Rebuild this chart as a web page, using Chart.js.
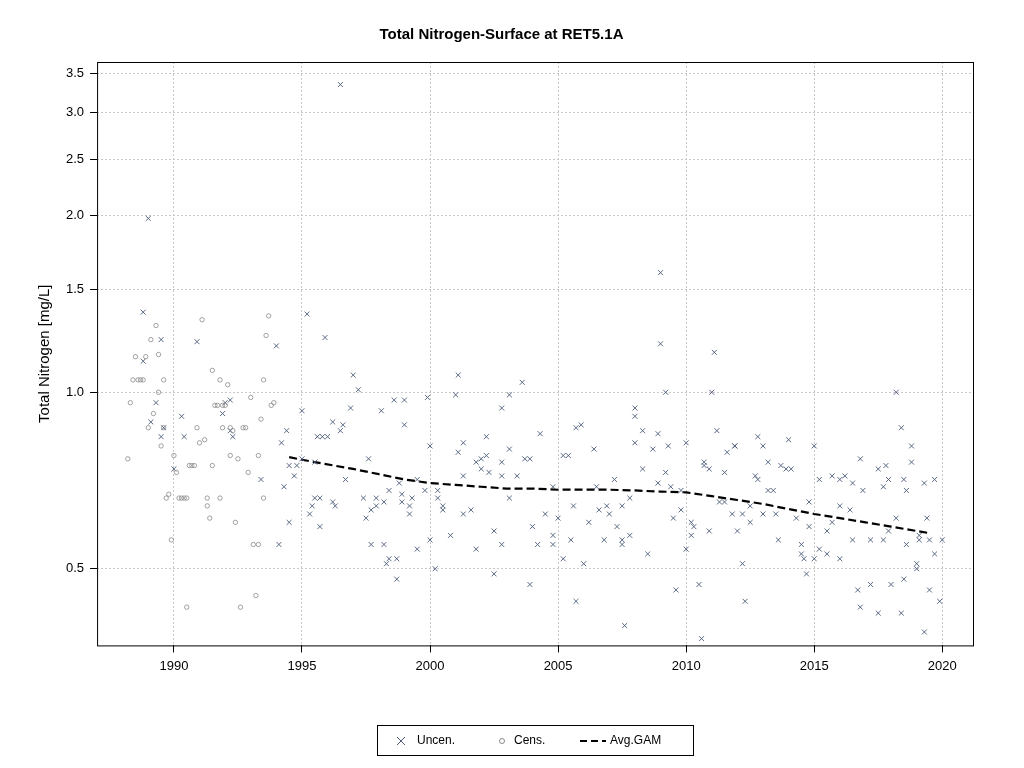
<!DOCTYPE html>
<html>
<head>
<meta charset="utf-8">
<script src="https://cdn.jsdelivr.net/npm/chart.js@4"></script>
<style>
  body { margin: 0; background: #fff; }
  #wrap { width: 1024px; height: 768px; }
</style>
</head>
<body>
<div id="wrap"><canvas id="myChart" width="1024" height="768"></canvas></div>
<script>
// Censored samples (year, mg/L)
const censYears = [1988.2,1988.3,1988.4,1988.5,1988.6,1988.7,1988.8,1988.9,1989.0,1989.1,1989.2,1989.3,1989.4,1989.4,1989.5,1989.6,1989.6,1989.7,1989.8,1989.9,1990.0,1990.1,1990.2,1990.3,1990.4,1990.5,1990.5,1990.6,1990.7,1990.8,1990.9,1991.0,1991.1,1991.2,1991.3,1991.3,1991.4,1991.5,1991.5,1991.6,1991.7,1991.8,1991.8,1991.9,1992.0,1992.1,1992.2,1992.3,1992.4,1992.5,1992.6,1992.7,1992.8,1992.9,1993.0,1993.1,1993.2,1993.3,1993.4,1993.5,1993.5,1993.6,1993.7,1993.8,1993.9,1993.3,1992.2,1991.9];
const censVals = [0.77,0.96,1.05,1.15,1.05,1.05,1.05,1.15,0.87,1.23,0.92,1.3,1.0,1.16,0.81,1.05,0.87,0.66,0.67,0.56,0.78,0.73,0.66,0.66,0.66,0.66,0.43,0.75,0.75,0.75,0.87,0.82,1.33,0.83,0.66,0.64,0.61,0.75,1.09,0.95,0.95,1.05,0.66,0.87,0.95,1.03,0.78,0.86,0.6,0.77,0.43,0.87,0.87,0.73,0.98,0.55,0.45,0.55,0.9,1.05,0.66,1.25,1.35,0.95,0.96,0.78,0.87,0.95];

// Uncensored samples
const uncYears = [1988.8,1988.8,1989.0,1989.1,1989.3,1989.5,1989.5,1989.6,1990.0,1990.3,1990.4,1990.9,1991.9,1992.0,1992.2,1992.2,1992.3,1993.4,1994.0,1994.1,1994.2,1994.3,1994.4,1994.5,1994.5,1994.7,1994.8,1995.0,1995.0,1995.2,1995.3,1995.4,1995.5,1995.5,1995.6,1995.7,1995.7,1995.8,1995.9,1996.0,1996.2,1996.2,1996.3,1996.5,1996.5,1996.6,1996.7,1996.9,1997.0,1997.2,1997.4,1997.5,1997.6,1997.7,1997.7,1997.9,1997.9,1998.1,1998.2,1998.2,1998.3,1998.4,1998.4,1998.6,1998.7,1998.7,1998.8,1998.9,1998.9,1999.0,1999.0,1999.2,1999.2,1999.3,1999.5,1999.5,1999.8,1999.9,2000.0,2000.0,2000.2,2000.3,2000.3,2000.5,2000.5,2000.8,2001.0,2001.1,2001.1,2001.3,2001.3,2001.3,2001.6,2001.8,2001.8,2002.0,2002.0,2002.2,2002.2,2002.3,2002.5,2002.5,2002.8,2002.8,2002.8,2002.8,2003.1,2003.1,2003.1,2003.4,2003.6,2003.7,2003.9,2003.9,2004.0,2004.2,2004.3,2004.5,2004.8,2004.8,2004.8,2005.0,2005.2,2005.2,2005.4,2005.5,2005.6,2005.7,2005.7,2005.9,2006.0,2006.2,2006.4,2006.5,2006.6,2006.8,2006.9,2007.0,2007.2,2007.3,2007.5,2007.5,2007.5,2007.6,2007.8,2007.8,2008.0,2008.0,2008.0,2008.3,2008.3,2008.5,2008.7,2008.9,2008.9,2009.0,2009.0,2009.2,2009.2,2009.3,2009.4,2009.5,2009.6,2009.8,2009.8,2010.0,2010.0,2010.2,2010.2,2010.3,2010.5,2010.6,2010.7,2010.7,2010.9,2010.9,2011.0,2011.1,2011.2,2011.3,2011.5,2011.5,2011.6,2011.8,2011.9,2011.9,2012.0,2012.2,2012.2,2012.3,2012.5,2012.5,2012.7,2012.8,2012.8,2013.0,2013.0,2013.2,2013.2,2013.4,2013.5,2013.6,2013.7,2013.9,2014.0,2014.1,2014.3,2014.5,2014.5,2014.6,2014.7,2014.8,2014.8,2015.0,2015.0,2015.2,2015.2,2015.5,2015.5,2015.7,2015.7,2016.0,2016.0,2016.0,2016.2,2016.4,2016.5,2016.5,2016.7,2016.8,2016.8,2016.9,2017.2,2017.2,2017.5,2017.5,2017.7,2017.7,2017.8,2017.9,2017.9,2018.0,2018.2,2018.2,2018.4,2018.4,2018.5,2018.5,2018.6,2018.6,2018.8,2018.8,2019.0,2019.0,2019.1,2019.1,2019.3,2019.3,2019.4,2019.5,2019.5,2019.7,2019.7,2019.9,2020.0];
const uncVals = [1.13,1.37,1.98,0.89,0.96,1.23,0.84,0.87,0.74,0.91,0.84,1.22,0.92,0.96,0.86,0.97,0.84,0.71,1.2,0.55,0.82,0.69,0.86,0.60,0.75,0.72,0.75,0.93,0.77,1.36,0.62,0.64,0.66,0.76,0.84,0.59,0.66,0.84,1.24,0.84,0.65,0.89,0.64,0.86,3.35,0.88,0.71,0.94,1.07,1.01,0.66,0.61,0.77,0.55,0.63,0.66,0.64,0.93,0.55,0.65,0.51,0.52,0.68,0.97,0.48,0.52,0.70,0.67,0.65,0.88,0.97,0.62,0.64,0.66,0.54,0.71,0.68,0.98,0.81,0.56,0.50,0.68,0.66,0.64,0.63,0.57,0.99,1.07,0.79,0.62,0.82,0.72,0.63,0.54,0.76,0.77,0.74,0.78,0.84,0.73,0.49,0.58,0.76,0.94,0.72,0.55,0.80,0.66,0.99,0.72,1.04,0.77,0.77,0.47,0.59,0.55,0.85,0.62,0.69,0.57,0.55,0.61,0.78,0.52,0.78,0.56,0.64,0.87,0.44,0.88,0.51,0.60,0.80,0.69,0.63,0.56,0.64,0.62,0.71,0.59,0.55,0.56,0.64,0.40,0.66,0.57,0.94,0.82,0.91,0.74,0.86,0.53,0.80,0.70,0.85,1.21,1.6,1.0,0.73,0.81,0.69,0.61,0.46,0.63,0.68,0.82,0.54,0.57,0.60,0.59,0.47,0.38,0.76,0.75,0.74,0.58,1.0,1.17,0.86,0.65,0.65,0.73,0.79,0.62,0.81,0.81,0.58,0.51,0.62,0.44,0.64,0.60,0.72,0.71,0.84,0.81,0.62,0.76,0.68,0.68,0.62,0.56,0.75,0.74,0.83,0.74,0.61,0.55,0.53,0.52,0.49,0.65,0.59,0.52,0.81,0.54,0.71,0.53,0.58,0.72,0.60,0.64,0.71,0.52,0.72,0.63,0.70,0.56,0.46,0.43,0.77,0.68,0.56,0.47,0.74,0.42,0.56,0.69,0.75,0.58,0.71,0.47,1.0,0.61,0.42,0.87,0.48,0.71,0.55,0.68,0.81,0.76,0.50,0.51,0.56,0.57,0.39,0.70,0.61,0.46,0.56,0.71,0.53,0.44,0.56];

// GAM fit
const gamYears = [1994.5,1995.5,1997,1998,1999,2000,2001,2002,2003,2004,2005,2006,2007,2008,2009,2010,2011,2012,2013,2014,2015,2016,2017,2018,2019,2019.5];
const gamVals = [0.775,0.76,0.74,0.725,0.71,0.70,0.695,0.69,0.685,0.685,0.682,0.682,0.682,0.68,0.677,0.675,0.665,0.655,0.645,0.632,0.62,0.61,0.60,0.59,0.58,0.575];

const yTicks = [0.5, 1.0, 1.5, 2.0, 2.5, 3.0, 3.5];
const xTicks = [1990, 1995, 2000, 2005, 2010, 2015, 2020];

const pts = (xs, ys) => xs.map((x, i) => ({x: x, y: ys[i]}));
const FONT = 'Liberation Sans, Arial, sans-serif';

const frameAndLegend = {
  id: 'frameAndLegend',
  afterDraw(chart) {
    const c = chart.ctx, a = chart.chartArea;
    c.save();
    c.strokeStyle = '#000'; c.lineWidth = 1;
    c.strokeRect(a.left + 0.5, a.top + 0.5, a.right - a.left, a.bottom - a.top);
    // legend box
    const lx = 377, ly = 725, lw = 316, lh = 30;
    c.strokeRect(lx + 0.5, ly + 0.5, lw, lh);
    c.font = '12px ' + FONT; c.fillStyle = '#000'; c.textBaseline = 'middle';
    const my = ly + lh / 2 + 1;
    c.strokeStyle = '#4a5a78';
    c.beginPath(); c.moveTo(397, my - 4); c.lineTo(405, my + 4); c.moveTo(405, my - 4); c.lineTo(397, my + 4); c.stroke();
    c.fillText('Uncen.', 417, my);
    c.strokeStyle = '#888';
    c.beginPath(); c.arc(502, my, 2.5, 0, Math.PI * 2); c.stroke();
    c.fillText('Cens.', 514, my);
    c.strokeStyle = '#000'; c.lineWidth = 2; c.setLineDash([7, 4]);
    c.beginPath(); c.moveTo(580, my); c.lineTo(606, my); c.stroke();
    c.setLineDash([]);
    c.fillText('Avg.GAM', 610, my);
    c.restore();
  }
};

new Chart(document.getElementById('myChart').getContext('2d'), {
  type: 'scatter',
  data: {
    datasets: [
      { label: 'Cens.', data: pts(censYears, censVals), pointStyle: 'circle', pointRadius: 2.2,
        borderColor: '#8a8a8a', backgroundColor: 'rgba(0,0,0,0)', borderWidth: 0.8 },
      { label: 'Uncen.', data: pts(uncYears, uncVals), pointStyle: 'crossRot', pointRadius: 3.5,
        borderColor: '#4a5a78', borderWidth: 0.9 },
      { label: 'Avg.GAM', type: 'line', data: pts(gamYears, gamVals), borderColor: '#000',
        borderWidth: 2.2, borderDash: [8, 4], pointRadius: 0, fill: false }
    ]
  },
  options: {
    responsive: false, animation: false,
    layout: { padding: { left: 30, right: 51, top: 20, bottom: 88 } },
    plugins: {
      legend: { display: false }, tooltip: { enabled: false },
      title: { display: true, text: 'Total Nitrogen-Surface at RET5.1A', color: '#000',
        font: { family: FONT, size: 15, weight: 'bold' }, padding: { top: 6, bottom: 18 } }
    },
    scales: {
      x: { type: 'linear', min: 1987, max: 2021.2,
        afterBuildTicks: ax => { ax.ticks = xTicks.map(v => ({value: v})); },
        ticks: { color: '#000', font: { family: FONT, size: 13 }, padding: 6, callback: v => String(v) },
        grid: { color: '#c8c8c8', tickColor: '#000', tickLength: 7, drawTicks: true },
        border: { display: false, dash: [2, 2] } },
      y: { type: 'logarithmic', min: 0.37, max: 3.66,
        afterBuildTicks: ax => { ax.ticks = yTicks.map(v => ({value: v})); },
        ticks: { color: '#000', font: { family: FONT, size: 13 }, padding: 6, callback: v => v.toFixed(1) },
        grid: { color: '#c8c8c8', tickColor: '#000', tickLength: 7 },
        border: { display: false, dash: [2, 2] },
        title: { display: true, text: 'Total Nitrogen [mg/L]', color: '#000',
          font: { family: FONT, size: 15 }, padding: 6 } }
    }
  },
  plugins: [frameAndLegend]
});
</script>
</body>
</html>
